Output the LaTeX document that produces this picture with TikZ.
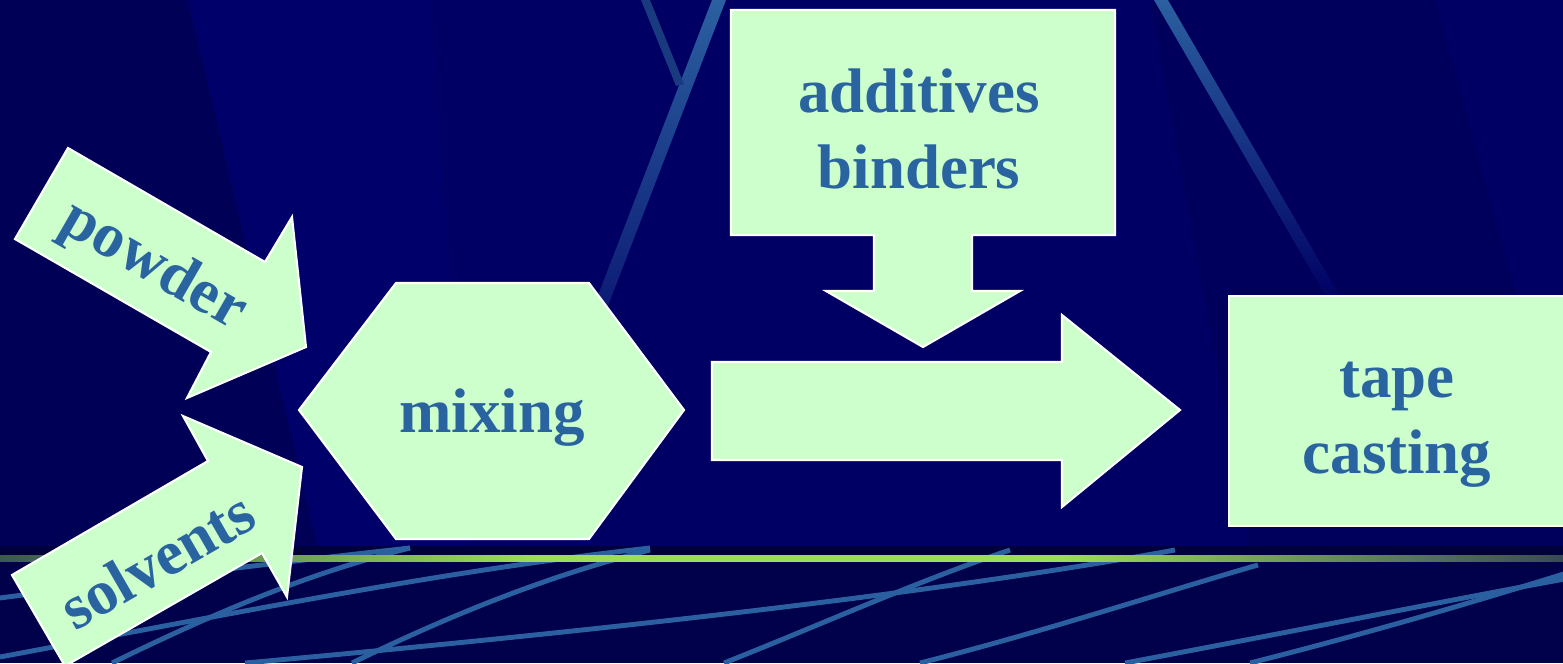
\documentclass[tikz,border=0pt]{standalone}
\usepackage{fontspec}
\setmainfont{Liberation Serif}
\usetikzlibrary{positioning, calc}
\definecolor{navy}{HTML}{000064}
\definecolor{navydark}{HTML}{000056}
\definecolor{navyshade}{HTML}{00005C}
\definecolor{navylight}{HTML}{00006B}
\definecolor{navyfloor}{HTML}{00004B}
\definecolor{navyrim}{HTML}{00003A}
\definecolor{streak}{HTML}{2B60A0}
\definecolor{streakdim}{HTML}{1A3A80}
\definecolor{mint}{HTML}{CCFFCC}
\definecolor{label}{HTML}{2963A0}
\definecolor{limeglow}{HTML}{9CDC58}
\definecolor{limedark}{HTML}{3A5A4E}
\definecolor{slatedark}{HTML}{3A4A55}
\pgfdeclarehorizontalshading{rimglow}{100bp}{color(0bp)=(limedark);
  color(25bp)=(limedark); color(42bp)=(limeglow); color(59bp)=(limeglow);
  color(75bp)=(slatedark); color(100bp)=(slatedark)}
\tikzset{
  font=\bfseries\fontsize{17.9}{21.6}\selectfont,
  %
  block/.style={draw=white, line width=0.6pt, fill=mint, line join=miter},
  word/.style={text=label, align=center, inner sep=0pt, anchor=base},
  %
  streakfade/.style={top color=streak, bottom color=navy, draw=none},
  floorline/.style={draw=streak, line width=1.4pt},
  rim/.style={shading=rimglow},
}
\begin{document}
\begin{tikzpicture}[x=0.01cm, y=-0.01cm]
\useasboundingbox (0,0) rectangle (1563,663);
\clip (0,0) rectangle (1563,663);

% =========================================================================
% backdrop
\fill[navy] (0,0) rectangle (1563,548);
\fill[navydark] (0,0) -- (188,0) -- (318,548) -- (0,548) -- cycle;
\fill[navylight] (188,0) -- (431,0) -- (470,548) -- (318,548) -- cycle;
\fill[navyshade] (1150,0) -- (1435,0) -- (1585,548) -- (1250,548) -- cycle;
\shade[streakfade] (712,0) -- (726,0) -- (560,430) -- (546,430) -- cycle;
\fill[streakdim] (641,0) -- (650,0) -- (684,84) -- (676,86) -- cycle;
\shade[streakfade] (1154,0) -- (1168,0) -- (1342,300) -- (1328,300) -- cycle;

% =========================================================================
% floor
\fill[navyfloor] (0,548) rectangle (1563,663);
\fill[navyrim] (0,546) rectangle (1563,556);
\draw[floorline] (0,598) .. controls (150,578) and (300,560) .. (410,548);
\draw[floorline] (0,657) .. controls (250,610) and (450,570) .. (650,548);
\draw[floorline] (112,663) .. controls (200,620) and (300,575) .. (410,548);
\draw[floorline] (352,663) .. controls (450,615) and (550,575) .. (650,550);
\draw[floorline] (245,663) .. controls (500,640) and (900,600) .. (1175,550);
\draw[floorline] (724,663) .. controls (820,625) and (920,580) .. (1010,550);
\draw[floorline] (920,663) .. controls (1050,630) and (1170,590) .. (1258,565);
\draw[floorline] (1125,663) .. controls (1300,630) and (1450,600) .. (1570,578);
\draw[floorline] (1250,663) .. controls (1380,630) and (1480,600) .. (1570,572);
\shade[rim] (0,555) rectangle (1563,561);

% =========================================================================
% inputs
\draw[block] (68,148) -- (265,262) -- (292,217) -- (306,347) -- (187,398)
  -- (211,352) -- (15,239) -- cycle;
\node[word, rotate=-30, anchor=center] (powder) at (153,267) {powder};

\draw[block] (12,575) -- (208,461) -- (183,416) -- (302,467) -- (287,597)
  -- (262,553) -- (65,666) -- cycle;
\node[word, rotate=30, anchor=center] (solvents) at (157,560) {solvents};

% =========================================================================
% process
\draw[block] (299,410) -- (396,283) -- (589,283) -- (684,410) -- (589,539)
  -- (396,539) -- cycle;
\node[word] (mixing) at (492,432) {mixing};

\draw[block] (731,10) -- (1115,10) -- (1115,235) -- (972,235) -- (972,291)
  -- (1020,291) -- (923,347) -- (826,291) -- (874,291) -- (874,235)
  -- (731,235) -- cycle;
\node[word] (additives) at (919,188) {additives\\binders};

\draw[block] (712,362) -- (1062,362) -- (1062,315) -- (1180,410) -- (1062,507)
  -- (1062,460) -- (712,460) -- cycle;

\draw[block] (1229,296) rectangle (1570,526);
\node[word] (tape) at (1397,473) {tape\\casting};

\end{tikzpicture}
\end{document}
